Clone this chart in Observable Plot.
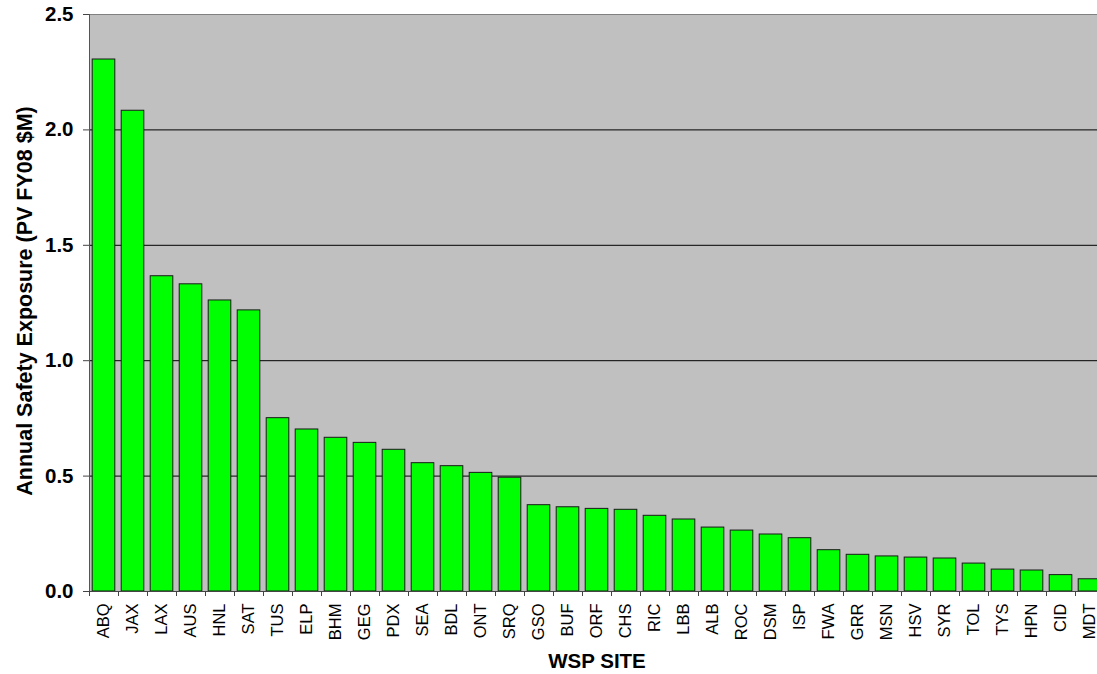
<!DOCTYPE html>
<html><head><meta charset="utf-8">
<script src="https://cdn.jsdelivr.net/npm/d3@7"></script>
<script src="https://cdn.jsdelivr.net/npm/@observablehq/plot@0.6"></script>
<style>html,body{margin:0;padding:0;background:#fff;overflow:hidden;} svg{max-width:none !important;}</style>
</head><body><div id="chart"></div>
<script>
const sites = ["ABQ","JAX","LAX","AUS","HNL","SAT","TUS","ELP","BHM","GEG","PDX","SEA","BDL","ONT","SRQ","GSO","BUF","ORF","CHS","RIC","LBB","ALB","ROC","DSM","ISP","FWA","GRR","MSN","HSV","SYR","TOL","TYS","HPN","CID","MDT"];
const exposure = [2.305,2.083,1.366,1.331,1.261,1.218,0.751,0.702,0.666,0.644,0.614,0.556,0.543,0.514,0.493,0.374,0.365,0.358,0.354,0.328,0.312,0.277,0.264,0.247,0.231,0.179,0.159,0.152,0.147,0.143,0.121,0.095,0.091,0.071,0.053];
const yTicks = [0, 0.5, 1.0, 1.5, 2.0, 2.5];
const gridValues = [0.5, 1.0, 1.5, 2.0];
const yTitle = "Annual Safety Exposure (PV FY08 $M)";
const xTitle = "WSP SITE";

const data = sites.map((s, i) => ({site: s, i, value: exposure[i]}));

const chart = Plot.plot({
  width: 1104, height: 674,
  marginLeft: 89, marginTop: 14, marginBottom: 83, marginRight: 0,
  style: {fontFamily: "'Liberation Sans', Arial, sans-serif", background: "#fff", color: "#000", maxWidth: "none"},
  x: {type: "linear", domain: [0, sites.length]},
  y: {domain: [0, 2.5]},
  marks: [
    Plot.frame({fill: "#c0c0c0", stroke: "#808080"}),
    Plot.ruleY(gridValues, {stroke: "#000", strokeWidth: 1}),
    Plot.rectY(data, {x1: "i", x2: d => d.i + 1, y1: 0, y2: "value", insetLeft: 3.2, insetRight: 3.2, fill: "#00ff00", stroke: "#1a1a1a", strokeWidth: 1}),
    Plot.ruleY([0], {stroke: "#444"}),
    Plot.ruleX([0], {stroke: "#555"}),
    Plot.axisY(yTicks, {tickSize: 6, tickPadding: 10, tickFormat: d => d.toFixed(1), fontSize: 20.5, fontWeight: "bold", label: null, stroke: "#444"}),
    Plot.axisX(d3.range(sites.length + 1), {tickSize: 5, tickFormat: () => "", label: null, stroke: "#444"}),
    Plot.axisX(d3.range(sites.length).map(i => i + 0.5), {tickSize: 0, tickPadding: 12, tickFormat: d => sites[Math.floor(d)], tickRotate: -90, fontSize: 16.5, label: null}),
    Plot.text([yTitle], {text: d => d, frameAnchor: "left", rotate: -90, dx: -64, dy: -2, textAnchor: "middle", lineAnchor: "middle", fontSize: 21.5, fontWeight: "bold", fill: "#000"}),
    Plot.text([xTitle], {text: d => d, frameAnchor: "bottom", dy: 70, textAnchor: "middle", lineAnchor: "middle", fontSize: 20.5, fontWeight: "bold", fill: "#000"})
  ]
});
document.getElementById("chart").appendChild(chart);
</script>
</body></html>
